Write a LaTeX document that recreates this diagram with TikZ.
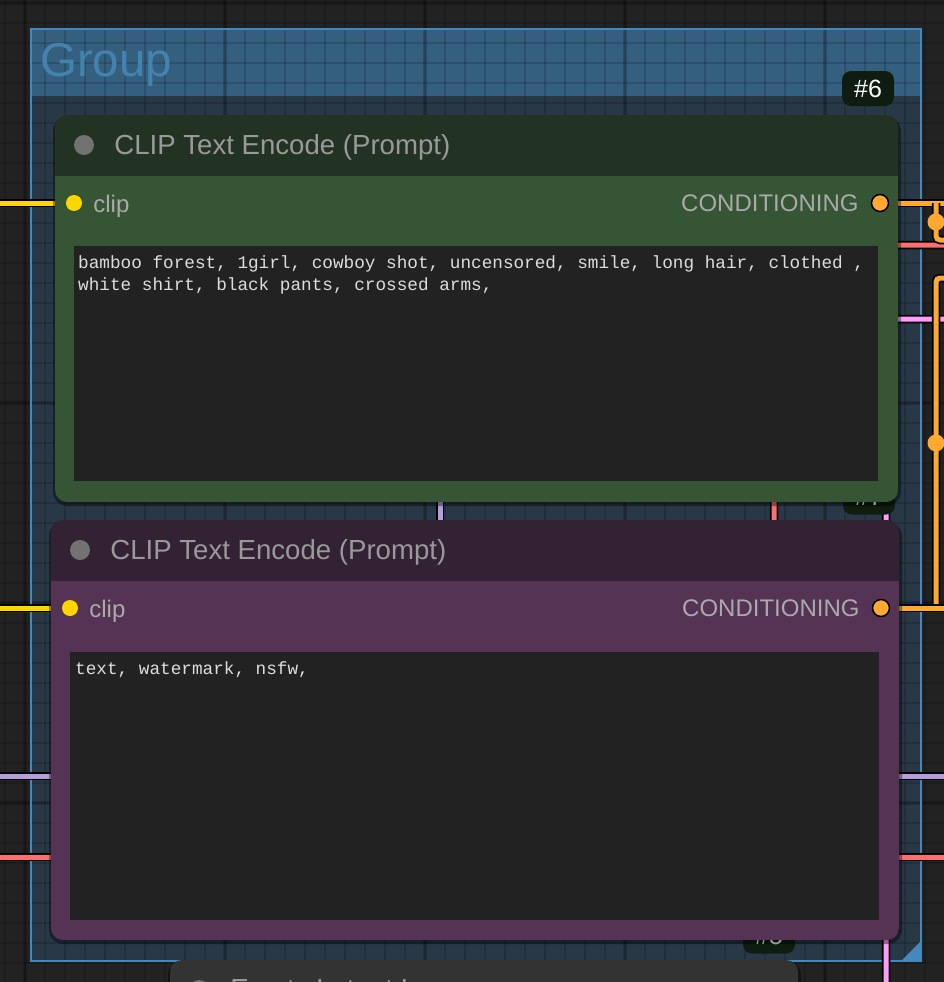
\documentclass[tikz,border=0pt]{standalone}
\usepackage{fontspec}
\setmainfont{Liberation Sans}
\setmonofont{Liberation Mono}
\usepackage{tikz}
\usetikzlibrary{positioning}
\usepackage{xcolor}

\definecolor{canvas}{HTML}{222222}
\definecolor{grpbody}{HTML}{283846}
\definecolor{grphead}{HTML}{355F7E}
\definecolor{grpedge}{HTML}{4588BD}
\definecolor{grptext}{HTML}{4483B0}
\definecolor{greentitle}{HTML}{233323}
\definecolor{greenbody}{HTML}{355535}
\definecolor{purpletitle}{HTML}{332233}
\definecolor{purplebody}{HTML}{553355}
\definecolor{greytitle}{HTML}{333333}
\definecolor{textarea}{HTML}{222222}
\definecolor{badgebg}{HTML}{0E1D0F}
\definecolor{titlegrey}{HTML}{999999}
\definecolor{slotgrey}{HTML}{AAAAAA}
\definecolor{dotgrey}{HTML}{727272}
\definecolor{prompt}{HTML}{DDDDDD}
\definecolor{clipwire}{HTML}{FFD500}
\definecolor{condwire}{HTML}{FFA931}
\definecolor{vaewire}{HTML}{FF6E6E}
\definecolor{modelwire}{HTML}{B39DDB}
\definecolor{latentwire}{HTML}{FF9CF9}

\tikzset{
  gridline/.style={draw=black, opacity=0.14, line width=2pt},
  gridmajor/.style={draw=black, opacity=0.18, line width=4pt},
  wire/.style={draw=#1, line width=5pt, rounded corners=4pt,
    preaction={draw=black, line width=8.5pt}},
  hub/.style={circle, fill=condwire, minimum size=17pt, inner sep=0pt},
  inslot/.style={circle, fill=#1, minimum size=16pt, inner sep=0pt},
  outslot/.style={circle, fill=#1, draw=black, line width=1.5pt, minimum size=17pt, inner sep=0pt},
  nodedot/.style={circle, fill=dotgrey, minimum size=20pt, inner sep=0pt},
  nodeshadow/.style={fill=black, fill opacity=0.4, rounded corners=14pt},
  titletext/.style={inner sep=0pt, text=titlegrey, font=\fontsize{27.6}{31}\selectfont},
  slottext/.style={inner sep=0pt, text=slotgrey, font=\fontsize{24}{27}\selectfont},
  prompttext/.style={anchor=base west, inner sep=0pt, text=prompt, font=\ttfamily\fontsize{17.7}{22}\selectfont},
  badge/.style={fill=badgebg, rounded corners=9pt, minimum width=52pt, minimum height=35pt,
    inner sep=0pt, text=white, font=\fontsize{25}{28}\selectfont},
  grouptitle/.style={anchor=base west, inner sep=0pt, text=grptext, font=\fontsize{47.5}{52}\selectfont}
}

\begin{document}
\begin{tikzpicture}[x=1pt,y=-1pt]
\useasboundingbox (0,0) rectangle (944,982);
\clip (0,0) rectangle (944,982);
\fill[canvas] (0,0) rectangle (944,982);

% group frame with its grid
\fill[grpbody] (31,29) rectangle (921,961);
\fill[grphead] (31,29) rectangle (921,96);
\foreach \x in {5,25,...,945} \draw[gridline] (\x,0) -- (\x,982);
\foreach \y in {3,23,...,983} \draw[gridline] (0,\y) -- (944,\y);
\foreach \x in {25,225,...,825} \draw[gridmajor] (\x,0) -- (\x,982);
\foreach \y in {3,203,...,803} \draw[gridmajor] (0,\y) -- (944,\y);
\draw[grpedge, line width=1.5pt] (31,29) rectangle (921,961);
\node[grouptitle] (grp) at (40,76) {Group};
\fill[grpedge] (921,941) -- (921,961) -- (901,961) -- cycle;

% slots and wire ends
\coordinate (in6) at (74,203);
\coordinate (out6) at (880,203);
\coordinate (in7) at (70,608);
\coordinate (out7) at (881,608);
\coordinate (clipa) at (0,203);
\coordinate (clipb) at (0,608);
\coordinate (conda) at (944,203);
\coordinate (condb) at (944,240);
\coordinate (condc) at (944,278);
\coordinate (condd) at (944,608);
\coordinate (vaea) at (944,245);
\coordinate (vaeb) at (0,857);
\coordinate (vaec) at (944,857);
\coordinate (modela) at (0,776);
\coordinate (modelb) at (944,776);
\coordinate (latenta) at (944,319);

\draw[wire=modelwire] (440,400) -- (440,776);
\draw[wire=modelwire] (modela) -- (modelb);
\draw[wire=vaewire] (vaea) -- (774,245) -- (774,857);
\draw[wire=vaewire] (vaeb) -- (vaec);
\draw[wire=latentwire] (latenta) -- (886,319) -- (886,990);
\draw[wire=clipwire] (clipa) -- (in6);
\draw[wire=clipwire] (clipb) -- (in7);
\draw[wire=condwire] (out6) -- (conda);
\draw[wire=condwire] (936,203) -- (936,240) -- (condb);
\draw[wire=condwire] (condc) -- (936,278) -- (936,608);
\draw[wire=condwire] (out7) -- (condd);
\node[hub] (h1) at (936,222) {};
\node[hub] (h2) at (936,443) {};

% node 5
\fill[nodeshadow] (168,961) rectangle (801,1110);
\fill[greytitle, rounded corners=12pt] (170,960) rectangle (798,1100);
\node[nodedot] (d5) at (199,990) {};
\node[titletext, right=21pt of d5, yshift=-2pt] (t5) {Empty Latent Image};
\node[badge] (b5) at (769,936) {\#5};

% node 7
\fill[nodeshadow] (49,522) rectangle (902,944);
\begin{scope}
\clip[rounded corners=12pt] (51,520) rectangle (899,940);
\fill[purpletitle] (51,520) rectangle (899,581);
\fill[purplebody] (51,581) rectangle (899,940);
\end{scope}
\fill[textarea] (70,652) rectangle (879,920);
\node[nodedot] (d7) at (80,550) {};
\node[titletext, right=20pt of d7, yshift=-2pt] (t7) {CLIP Text Encode (Prompt)};
\node[inslot=clipwire] (s7) at (in7) {};
\node[slottext, right=11pt of s7, yshift=-3pt] (l7) {clip};
\node[outslot=condwire] (o7) at (out7) {};
\node[slottext, left=12pt of o7] (c7) {CONDITIONING};
\node[prompttext] (p7) at (75,674) {text, watermark, nsfw,};
\node[badge] (b7) at (869,497) {\#7};

% node 6
\fill[nodeshadow] (53,117) rectangle (901,506);
\begin{scope}
\clip[rounded corners=12pt] (55,115) rectangle (898,502);
\fill[greentitle] (55,115) rectangle (898,176);
\fill[greenbody] (55,176) rectangle (898,502);
\end{scope}
\fill[textarea] (74,246) rectangle (878,481);
\node[nodedot] (d6) at (84,145) {};
\node[titletext, right=20pt of d6, yshift=-2pt] (t6) {CLIP Text Encode (Prompt)};
\node[inslot=clipwire] (s6) at (in6) {};
\node[slottext, right=11pt of s6, yshift=-3pt] (l6) {clip};
\node[outslot=condwire] (o6) at (out6) {};
\node[slottext, left=12pt of o6] (c6) {CONDITIONING};
\node[prompttext] (p6a) at (78,268) {bamboo forest, 1girl, cowboy shot, uncensored, smile, long hair, clothed ,};
\node[prompttext] (p6b) at (78,290.5) {white shirt, black pants, crossed arms,};
\node[badge] (b6) at (868,88.5) {\#6};
\end{tikzpicture}
\end{document}
